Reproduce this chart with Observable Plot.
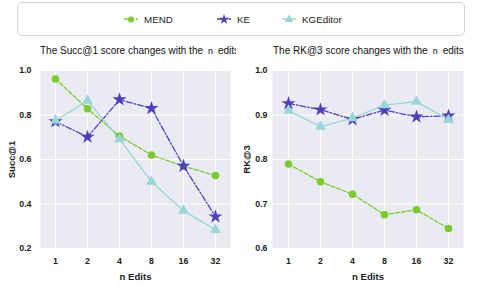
<!DOCTYPE html>
<html><head><meta charset="utf-8">
<script src="https://cdn.jsdelivr.net/npm/d3@7"></script>
<script src="https://cdn.jsdelivr.net/npm/@observablehq/plot@0.6"></script>
<style>
body{margin:0;background:#fff;font-family:"Liberation Sans",Arial,sans-serif;}
#wrap{position:relative;width:485px;height:286px;overflow:hidden;}
.abs{position:absolute;}
#legend{left:17px;top:2px;width:448px;height:34px;border:1px solid #d6d6d6;border-radius:5px;box-sizing:border-box;}
.item{position:absolute;top:10px;font-size:9.8px;display:flex;align-items:center;color:#222;}
.item svg{margin-right:4px;}
.title{font-size:10px;color:#111;white-space:nowrap;overflow:hidden;}
.mono{font-family:"DejaVu Sans Mono",monospace;font-size:9px;padding:0 2px;}
</style></head>
<body><div id="wrap"></div>
<script>
const edits = ["1","2","4","8","16","32"];
const seriesNames = ["MEND","KE","KGEditor"];
const colors = ["#7acb2b","#4c40c0","#99d6d6"];
const symbols = ["circle","star","triangle"];
const dashes = ["4,2","6,2,1.5,2","none"];
const succMEND = [0.962,0.828,0.705,0.620,0.570,0.528];
const succKE = [0.771,0.701,0.869,0.830,0.571,0.343];
const succKGE = [0.775,0.864,0.692,0.500,0.370,0.284];
const rkMEND = [0.790,0.750,0.722,0.676,0.687,0.645];
const rkKE = [0.926,0.912,0.890,0.911,0.896,0.898];
const rkKGE = [0.910,0.874,0.893,0.922,0.930,0.889];
const succTicks = [0.2,0.4,0.6,0.8,1.0];
const rkTicks = [0.6,0.7,0.8,0.9,1.0];

const wrap = document.getElementById("wrap");

// legend
const legend = document.createElement("div");
legend.id = "legend"; legend.className = "abs";
wrap.appendChild(legend);
const legendX = [104, 197, 262];
seriesNames.forEach((name, i) => {
  const it = document.createElement("div");
  it.className = "item";
  it.style.left = legendX[i] + "px";
  const ns = "http://www.w3.org/2000/svg";
  const s = document.createElementNS(ns, "svg");
  s.setAttribute("width", 18); s.setAttribute("height", 12);
  const ln = document.createElementNS(ns, "line");
  ln.setAttribute("x1", 2); ln.setAttribute("x2", 16); ln.setAttribute("y1", 6); ln.setAttribute("y2", 6);
  ln.setAttribute("stroke", colors[i]); ln.setAttribute("stroke-width", 1.3);
  if (dashes[i] !== "none") ln.setAttribute("stroke-dasharray", dashes[i]);
  s.appendChild(ln);
  const p = document.createElementNS(ns, "path");
  const sym = d3.symbol(i === 0 ? d3.symbolCircle : i === 1 ? d3.symbolStar : d3.symbolTriangle, i === 0 ? 30 : 34)();
  p.setAttribute("d", sym); p.setAttribute("transform", "translate(9,6.5)"); p.setAttribute("fill", colors[i]);
  s.appendChild(p);
  it.appendChild(s);
  it.appendChild(document.createTextNode(name));
  legend.appendChild(it);
});

function panel(opts) {
  const vals = opts.values;
  const marks = [
    Plot.frame({fill: "#eaeaf2", stroke: null}),
    Plot.gridX({stroke: "#fff", strokeOpacity: 1, strokeWidth: 1}),
    Plot.gridY(opts.ticks, {stroke: "#fff", strokeOpacity: 1, strokeWidth: 1}),
    Plot.axisX({tickSize: 0, tickPadding: 9, fontWeight: "bold", fontSize: 8.8, label: null}),
    Plot.axisX({tickSize: 0, ticks: [], fontWeight: "bold", fontSize: 9.6, label: "n Edits", labelAnchor: "center", labelArrow: "none", labelOffset: 31}),
    Plot.axisY(opts.ticks, {tickSize: 0, tickPadding: opts.tickPad, fontWeight: "bold", fontSize: 8.8, tickFormat: ".1f", label: null}),
    Plot.axisY({ticks: [], tickSize: 0, fontWeight: "bold", fontSize: 9.6, label: opts.ylabel, labelAnchor: "center", labelArrow: "none", labelOffset: opts.labelOff})
  ];
  vals.forEach((v, i) => {
    const data = edits.map((e, j) => ({n: e, v: v[j]}));
    marks.push(Plot.line(data, {x: "n", y: "v", stroke: colors[i], strokeWidth: 1.3, strokeDasharray: dashes[i] === "none" ? null : dashes[i]}));
  });
  vals.forEach((v, i) => {
    const data = edits.map((e, j) => ({n: e, v: v[j]}));
    marks.push(Plot.dot(data, {x: "n", y: "v", fill: colors[i], stroke: "none", symbol: () => symbols[i], r: i === 0 ? 3.8 : i === 1 ? 4.4 : 4.0}));
  });
  return Plot.plot({
    width: opts.width, height: 226,
    marginLeft: opts.ml, marginRight: opts.mr, marginTop: 10, marginBottom: 38,
    style: {fontFamily: '"Liberation Sans", Arial, sans-serif', color: "#222", background: "transparent"},
    x: {type: "point", domain: edits, padding: 0.45},
    y: {domain: opts.domain},
    symbol: {type: "identity"},
    marks
  });
}

const left = panel({values: [succMEND, succKE, succKGE], ticks: succTicks, domain: [0.2, 1.0], ylabel: "Succ@1", width: 240, ml: 40, mr: 10, tickPad: 9, labelOff: 32});
left.classList.add("abs"); left.style.left = "0px"; left.style.top = "60px";
wrap.appendChild(left);
const right = panel({values: [rkMEND, rkKE, rkKGE], ticks: rkTicks, domain: [0.6, 1.0], ylabel: "RK@3", width: 245, ml: 32, mr: 22, tickPad: 5, labelOff: 29});
right.classList.add("abs"); right.style.left = "240px"; right.style.top = "60px";
wrap.appendChild(right);

function title(text1, x, w) {
  const t = document.createElement("div");
  t.className = "abs title";
  t.style.left = x + "px"; t.style.top = "45px"; t.style.width = w + "px";
  t.innerHTML = text1 + ' <span class="mono">n</span> edits';
  wrap.appendChild(t);
}
title("The Succ@1 score changes with the", 40, 196);
title("The RK@3 score changes with the", 273, 212);
</script></body></html>
